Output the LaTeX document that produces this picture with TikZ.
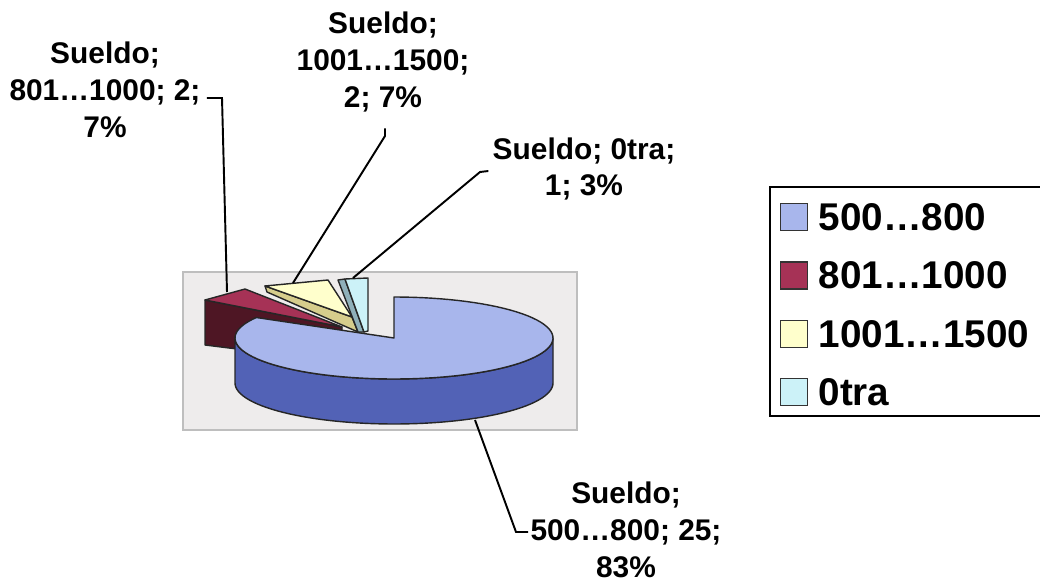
\documentclass[tikz,border=0pt]{standalone}
\usepackage{fontspec}
\setmainfont{Liberation Sans}
\usetikzlibrary{positioning}

\definecolor{bluetop}{RGB}{168,182,236}
\definecolor{blueside}{RGB}{82,98,182}
\definecolor{redtop}{RGB}{166,50,86}
\definecolor{redside}{RGB}{78,22,36}
\definecolor{yeltop}{RGB}{255,255,204}
\definecolor{yelside}{RGB}{214,205,140}
\definecolor{cyantop}{RGB}{204,242,248}
\definecolor{cyanside}{RGB}{143,176,186}
\definecolor{areagray}{RGB}{238,236,236}
\definecolor{areaedge}{RGB}{190,190,190}

\begin{document}
\begin{tikzpicture}[x=0.02cm,y=-0.02cm,
  lbl/.style={align=center,inner sep=0pt,font=\fontsize{17}{21}\selectfont\bfseries},
  conn/.style={draw=black,line width=1.1pt},
  slice/.style={draw=black!85,line width=0.8pt,line join=round},
  keybox/.style={draw=black!80,line width=0.8pt,minimum size=0.54cm,inner sep=0pt},
  keytxt/.style={inner sep=0pt,font=\fontsize{22}{24}\selectfont\bfseries}]
  \useasboundingbox (0,0) rectangle (1040,584);

  % plot area
  \filldraw[fill=areagray,draw=areaedge,line width=1pt] (183,272) rectangle (577,430);

  % exploded slices
  \filldraw[slice,fill=redside] (205,300) -- (342,327) -- (342,362) -- (205,345) -- cycle;
  \filldraw[slice,fill=redtop] (205,300) -- (245,289) -- (342,327) -- cycle;
  \filldraw[slice,fill=yelside] (265,286) -- (352,317) -- (358,332) -- (267,292) -- cycle;
  \filldraw[slice,fill=yeltop] (265,286) -- (328,280) -- (352,317) -- cycle;
  \filldraw[slice,fill=cyanside] (338,280) -- (345,279) -- (364,332) -- (358,332) -- cycle;
  \filldraw[slice,fill=cyantop] (345,279) -- (368,278) -- (368,331) -- (364,332) -- cycle;

  % big slice
  \filldraw[slice,fill=blueside]
    plot[domain=180:360,samples=60] ({394+159*cos(\x)},{338-41*sin(\x)})
    -- plot[domain=0:180,samples=60] ({394+159*cos(\x)},{383+41*sin(\x)}) -- cycle;
  \filldraw[slice,fill=bluetop] (394,338)
    -- plot[domain=-210:90,samples=90] ({394+159*cos(\x)},{338-41*sin(\x)}) -- cycle;

  % points on the slices
  \coordinate (s801) at (227,292);
  \coordinate (s1001) at (293,283);
  \coordinate (sotra) at (353,278);
  \coordinate (s500) at (475,420);
  \coordinate (bend801) at (222,98);
  \coordinate (bend1001) at (385,136);
  \coordinate (bendotra) at (480,172);
  \coordinate (bend500) at (516,532);

  % labels
  \node[lbl] (lbl801) at (105,90) {Sueldo;\\801…1000; 2;\\7\%};
  \node[lbl] (lbl1001) at (383,62) {Sueldo;\\1001…1500;\\2; 7\%};
  \node[lbl] (lblotra) at (584,169) {Sueldo; 0tra;\\1; 3\%};
  \node[lbl] (lbl500) at (626,530) {Sueldo;\\500…800; 25;\\83\%};

  \draw[conn] (lbl801.east) ++(6,8) -- (bend801) -- (s801);
  \draw[conn] (lbl1001.south) ++(2,16) -- (bend1001) -- (s1001);
  \draw[conn] (lblotra.west) ++(-4,2) -- (bendotra) -- (sotra);
  \draw[conn] (lbl500.west) ++(-2,2) -- (bend500) -- (s500);

  % legend
  \draw[line width=1pt] (1040,187) -- (770,187) -- (770,416) -- (1040,416);
  \node[keybox,fill=bluetop] (key500) at (794,217) {};
  \node[keybox,fill=redtop,below=0.6cm of key500] (key801) {};
  \node[keybox,fill=yeltop,below=0.6cm of key801] (key1001) {};
  \node[keybox,fill=cyantop,below=0.6cm of key1001] (keyotra) {};
  \node[keytxt,right=0.2cm of key500] {500…800};
  \node[keytxt,right=0.2cm of key801] {801…1000};
  \node[keytxt,right=0.2cm of key1001] {1001…1500};
  \node[keytxt,right=0.2cm of keyotra] {0tra};
\end{tikzpicture}
\end{document}
